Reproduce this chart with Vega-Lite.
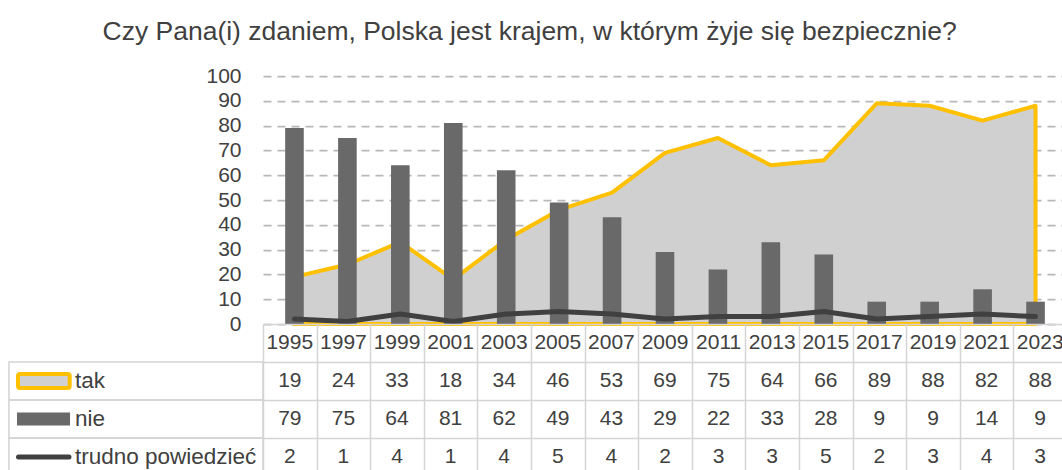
{
  "$schema": "https://vega.github.io/schema/vega-lite/v6.json",
  "background": "white",
  "padding": {"left": 8, "top": 18, "right": 0, "bottom": 0},
  "title": {"text": "Czy Pana(i) zdaniem, Polska jest krajem, w którym żyje się bezpiecznie?", "font": "Liberation Sans", "fontSize": 26.5, "fontWeight": "normal", "color": "#404040", "anchor": "middle", "offset": 20, "dx": -8},
  "datasets": {
    "main": [
      {"year": 1995, "tak": 19, "nie": 79, "trudno powiedzieć": 2},
      {"year": 1997, "tak": 24, "nie": 75, "trudno powiedzieć": 1},
      {"year": 1999, "tak": 33, "nie": 64, "trudno powiedzieć": 4},
      {"year": 2001, "tak": 18, "nie": 81, "trudno powiedzieć": 1},
      {"year": 2003, "tak": 34, "nie": 62, "trudno powiedzieć": 4},
      {"year": 2005, "tak": 46, "nie": 49, "trudno powiedzieć": 5},
      {"year": 2007, "tak": 53, "nie": 43, "trudno powiedzieć": 4},
      {"year": 2009, "tak": 69, "nie": 29, "trudno powiedzieć": 2},
      {"year": 2011, "tak": 75, "nie": 22, "trudno powiedzieć": 3},
      {"year": 2013, "tak": 64, "nie": 33, "trudno powiedzieć": 3},
      {"year": 2015, "tak": 66, "nie": 28, "trudno powiedzieć": 5},
      {"year": 2017, "tak": 89, "nie": 9, "trudno powiedzieć": 2},
      {"year": 2019, "tak": 88, "nie": 9, "trudno powiedzieć": 3},
      {"year": 2021, "tak": 82, "nie": 14, "trudno powiedzieć": 4},
      {"year": 2023, "tak": 88, "nie": 9, "trudno powiedzieć": 3}
    ],
    "rows": [
      {"series": "tak"},
      {"series": "nie"},
      {"series": "trudno powiedzieć"}
    ]
  },
  "spacing": 0,
  "bounds": "flush",
  "resolve": {"scale": {"x": "independent", "y": "independent"}},
  "vconcat": [
    {
      "width": 804,
      "height": 248,
      "data": {"name": "main"},
      "encoding": {
        "x": {"field": "year", "type": "quantitative", "scale": {"domain": [1994, 2024], "nice": false, "zero": false}, "axis": null}
      },
      "layer": [
        {
          "mark": {"type": "area", "fill": "#d0d0d0", "stroke": "#ffc000", "strokeWidth": 4, "strokeJoin": "round"},
          "encoding": {
            "y": {"field": "tak", "type": "quantitative", "scale": {"domain": [0, 100], "nice": false},
              "axis": {"title": null, "tickCount": 11, "labelOverlap": false, "labelBound": false, "domain": false, "ticks": false, "labelPadding": 22, "labelFontSize": 21, "labelColor": "#404040", "labelFont": "Liberation Sans", "grid": true, "gridColor": "#b8b8b8", "gridDash": [8, 6], "gridWidth": 1.75}}
          }
        },
        {
          "mark": {"type": "bar", "orient": "vertical", "size": 18.6, "color": "#696969"},
          "encoding": {"y": {"field": "nie", "type": "quantitative"}}
        },
        {
          "mark": {"type": "line", "stroke": "#404040", "strokeWidth": 5, "strokeCap": "round", "strokeJoin": "round"},
          "encoding": {"y": {"field": "trudno powiedzieć", "type": "quantitative"}}
        }
      ]
    },
    {
      "width": 804,
      "height": 152,
      "layer": [
        {
          "data": {"name": "main"},
          "transform": [{"fold": ["tak", "nie", "trudno powiedzieć"], "as": ["series", "value"]}],
          "mark": {"type": "text", "fontSize": 21, "color": "#404040", "font": "Liberation Sans"},
          "encoding": {
            "x": {"field": "year", "type": "quantitative", "scale": {"domain": [1994, 2024], "nice": false, "zero": false},
              "axis": {"title": null, "values": [1994, 1996, 1998, 2000, 2002, 2004, 2006, 2008, 2010, 2012, 2014, 2016, 2018, 2020, 2022, 2024], "labels": false, "ticks": false, "domain": false, "grid": true, "gridColor": "#d4d4d4", "gridWidth": 1.5}},
            "y": {"field": "series", "type": "nominal", "scale": {"domain": ["rok", "tak", "nie", "trudno powiedzieć"], "paddingInner": 0, "paddingOuter": 0},
              "axis": {"title": null, "labels": false, "ticks": false, "domain": false, "grid": true, "tickBand": "extent", "gridColor": "#d4d4d4", "gridWidth": 1.5}},
            "text": {"field": "value", "type": "quantitative"}
          }
        },
        {
          "data": {"name": "main"},
          "mark": {"type": "text", "fontSize": 21, "color": "#404040", "font": "Liberation Sans"},
          "encoding": {
            "x": {"field": "year", "type": "quantitative"},
            "y": {"datum": "rok", "type": "nominal"},
            "text": {"field": "year", "type": "nominal"}
          }
        },
        {
          "data": {"name": "rows"},
          "mark": {"type": "bar", "orient": "horizontal", "fillOpacity": 0, "stroke": "#d4d4d4", "strokeWidth": 1.5},
          "encoding": {
            "x": {"datum": 1984.52, "type": "quantitative"},
            "x2": {"datum": 1994},
            "y": {"field": "series", "type": "nominal"}
          }
        },
        {
          "data": {"name": "rows"},
          "mark": {"type": "text", "align": "left", "fontSize": 22.5, "color": "#404040", "font": "Liberation Sans"},
          "encoding": {
            "x": {"datum": 1986.985, "type": "quantitative"},
            "y": {"field": "series", "type": "nominal"},
            "text": {"field": "series", "type": "nominal"}
          }
        },
        {
          "data": {"name": "rows"},
          "transform": [{"filter": "datum.series === 'tak'"}],
          "mark": {"type": "bar", "orient": "horizontal", "height": 14, "fill": "#d0d0d0", "stroke": "#ffc000", "strokeWidth": 4, "cornerRadius": 2},
          "encoding": {
            "x": {"datum": 1984.858, "type": "quantitative"},
            "x2": {"datum": 1986.787},
            "y": {"field": "series", "type": "nominal"}
          }
        },
        {
          "data": {"name": "rows"},
          "transform": [{"filter": "datum.series === 'nie'"}],
          "mark": {"type": "bar", "orient": "horizontal", "height": 13, "fill": "#696969"},
          "encoding": {
            "x": {"datum": 1984.82, "type": "quantitative"},
            "x2": {"datum": 1986.80},
            "y": {"field": "series", "type": "nominal"}
          }
        },
        {
          "data": {"name": "rows"},
          "transform": [{"filter": "datum.series === 'trudno powiedzieć'"}],
          "mark": {"type": "rule", "stroke": "#404040", "strokeWidth": 5, "strokeCap": "round"},
          "encoding": {
            "x": {"datum": 1984.877, "type": "quantitative"},
            "x2": {"datum": 1986.761},
            "y": {"field": "series", "type": "nominal"}
          }
        }
      ]
    }
  ],
  "config": {
    "view": {"stroke": null},
    "font": "Liberation Sans"
  }
}
